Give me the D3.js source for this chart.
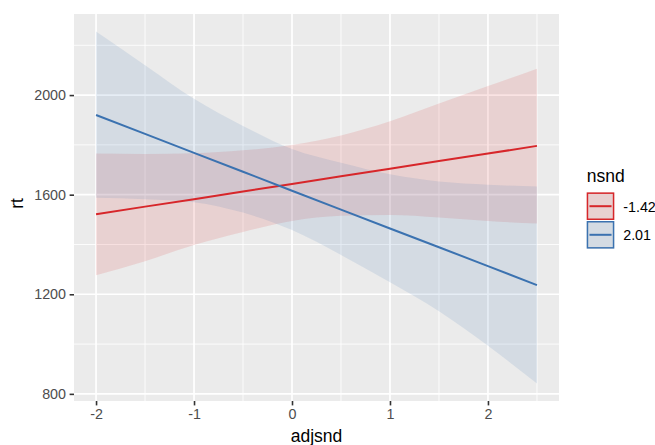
<!DOCTYPE html>
<html>
<head>
<meta charset="utf-8">
<script src="https://cdn.jsdelivr.net/npm/d3@7"></script>
<style>
  body { margin: 0; background: #ffffff; }
  svg { display: block; }
  text { font-family: "Liberation Sans", Arial, Helvetica, sans-serif; }
</style>
</head>
<body>
<svg id="chart" width="655" height="445"></svg>
<script>
// Predicted rt across adjsnd for two levels of nsnd, with confidence bands
const adjsnd = [-2, -1.5, -1, -0.5, 0, 0.5, 1, 1.5, 2, 2.5];
const nsndLevels = ["-1.42", "2.01"];

// nsnd = -1.42
const fitLowNsnd   = [1521, 1552, 1582, 1613, 1643, 1674, 1704, 1735, 1765, 1796];
const lowerLowNsnd = [1276, 1333, 1398, 1450, 1494, 1515, 1518, 1508, 1494, 1484];
const upperLowNsnd = [1765, 1763, 1766, 1778, 1800, 1838, 1895, 1966, 2036, 2106];

// nsnd = 2.01
const fitHighNsnd   = [1920, 1844, 1768, 1692, 1616, 1540, 1464, 1389, 1313, 1237];
const lowerHighNsnd = [1588, 1582, 1570, 1528, 1458, 1358, 1248, 1132, 993, 842];
const upperHighNsnd = [2255, 2120, 1985, 1876, 1783, 1728, 1682, 1653, 1640, 1633];

const xTicks = [-2, -1, 0, 1, 2];
const yTicks = [800, 1200, 1600, 2000];
const seriesColors = ["#D7262A", "#3B72B0"];

const series = nsndLevels.map((lvl, i) => {
  const fit = [fitLowNsnd, fitHighNsnd][i];
  const lo = [lowerLowNsnd, lowerHighNsnd][i];
  const hi = [upperLowNsnd, upperHighNsnd][i];
  return {
    level: lvl,
    color: seriesColors[i],
    rows: adjsnd.map((x, j) => ({ x, fit: fit[j], lo: lo[j], hi: hi[j] }))
  };
});

const svg = d3.select("#chart");
const panel = { left: 74, right: 559, top: 14, bottom: 401 };

// Continuous scales with 5% padding on each side
function padded(ext) {
  const p = (ext[1] - ext[0]) * 0.05;
  return [ext[0] - p, ext[1] + p];
}
const xExt = d3.extent(adjsnd);
const yExt = d3.extent([].concat(lowerLowNsnd, upperLowNsnd, lowerHighNsnd, upperHighNsnd));
const x = d3.scaleLinear().domain(padded(xExt)).range([panel.left, panel.right]);
const y = d3.scaleLinear().domain(padded(yExt)).range([panel.bottom, panel.top]);

// Panel background
svg.append("rect")
  .attr("x", panel.left).attr("y", panel.top)
  .attr("width", panel.right - panel.left).attr("height", panel.bottom - panel.top)
  .attr("fill", "#EBEBEB");

// Minor grid lines halfway between major ticks
function minors(ticks, dom) {
  const step = ticks[1] - ticks[0];
  const out = [];
  for (let v = ticks[0] - step / 2; v <= ticks[ticks.length - 1] + step; v += step) {
    if (v >= dom[0] && v <= dom[1]) out.push(v);
  }
  return out;
}
const grid = svg.append("g");
grid.selectAll("line.xminor").data(minors(xTicks, x.domain())).join("line")
  .attr("x1", d => x(d)).attr("x2", d => x(d))
  .attr("y1", panel.top).attr("y2", panel.bottom)
  .attr("stroke", "#ffffff").attr("stroke-width", 0.85);
grid.selectAll("line.yminor").data(minors(yTicks, y.domain())).join("line")
  .attr("y1", d => y(d)).attr("y2", d => y(d))
  .attr("x1", panel.left).attr("x2", panel.right)
  .attr("stroke", "#ffffff").attr("stroke-width", 0.85);
grid.selectAll("line.xmajor").data(xTicks).join("line")
  .attr("x1", d => x(d)).attr("x2", d => x(d))
  .attr("y1", panel.top).attr("y2", panel.bottom)
  .attr("stroke", "#ffffff").attr("stroke-width", 1.7);
grid.selectAll("line.ymajor").data(yTicks).join("line")
  .attr("y1", d => y(d)).attr("y2", d => y(d))
  .attr("x1", panel.left).attr("x2", panel.right)
  .attr("stroke", "#ffffff").attr("stroke-width", 1.7);

// Confidence ribbons
const band = d3.area()
  .x(d => x(d.x)).y0(d => y(d.lo)).y1(d => y(d.hi))
  .curve(d3.curveMonotoneX);
svg.append("g").selectAll("path").data(series).join("path")
  .attr("d", s => band(s.rows))
  .attr("fill", s => s.color).attr("fill-opacity", 0.13);

// Fitted lines
const fitLine = d3.line().x(d => x(d.x)).y(d => y(d.fit));
svg.append("g").selectAll("path").data(series).join("path")
  .attr("d", s => fitLine(s.rows))
  .attr("fill", "none").attr("stroke", s => s.color).attr("stroke-width", 2);

// Axes
const tickLen = 4.4;
const yAxis = svg.append("g")
  .attr("transform", `translate(${panel.left},0)`)
  .call(d3.axisLeft(y).tickValues(yTicks).tickSize(tickLen).tickPadding(3.6)
    .tickFormat(d3.format("d")));
const xAxis = svg.append("g")
  .attr("transform", `translate(0,${panel.bottom})`)
  .call(d3.axisBottom(x).tickValues(xTicks).tickSize(tickLen).tickPadding(3.6)
    .tickFormat(d => String(d)));
[xAxis, yAxis].forEach(a => {
  a.select(".domain").remove();
  a.selectAll(".tick line").attr("stroke", "#333333").attr("stroke-width", 1.6);
  a.selectAll(".tick text").attr("fill", "#4D4D4D").attr("font-size", 14.3)
    .attr("font-family", "'Liberation Sans', Arial, sans-serif");
});

// Axis titles
svg.append("text")
  .attr("x", (panel.left + panel.right) / 2).attr("y", 441.5)
  .attr("text-anchor", "middle").attr("font-size", 17.5).attr("fill", "#000")
  .text("adjsnd");
svg.append("text")
  .attr("transform", `translate(23,${(panel.top + panel.bottom) / 2 - 4}) rotate(-90)`)
  .attr("text-anchor", "middle").attr("font-size", 17.5).attr("fill", "#000")
  .text("rt");

// Legend
const legend = svg.append("g").attr("transform", "translate(586.7,0)");
legend.append("text")
  .attr("x", 0).attr("y", 181.5)
  .attr("font-size", 17.5).attr("fill", "#000")
  .text("nsnd");
const keySize = 27.6;
const keys = legend.selectAll("g.key").data(series).join("g")
  .attr("transform", (s, i) => `translate(0,${192.4 + i * (keySize + 1)})`);
keys.append("rect")
  .attr("width", keySize).attr("height", keySize).attr("fill", "#EBEBEB");
keys.append("rect")
  .attr("x", 0.75).attr("y", 0.75)
  .attr("width", keySize - 1.5).attr("height", keySize - 1.5)
  .attr("fill", s => s.color).attr("fill-opacity", 0.13)
  .attr("stroke", s => s.color).attr("stroke-width", 1.5);
keys.append("line")
  .attr("x1", keySize * 0.1).attr("x2", keySize * 0.9)
  .attr("y1", keySize / 2).attr("y2", keySize / 2)
  .attr("stroke", s => s.color).attr("stroke-width", 2);
keys.append("text")
  .attr("x", 36.5).attr("y", keySize / 2 + 5.5)
  .attr("font-size", 14.3).attr("fill", "#000")
  .text(s => s.level);
</script>
</body>
</html>
